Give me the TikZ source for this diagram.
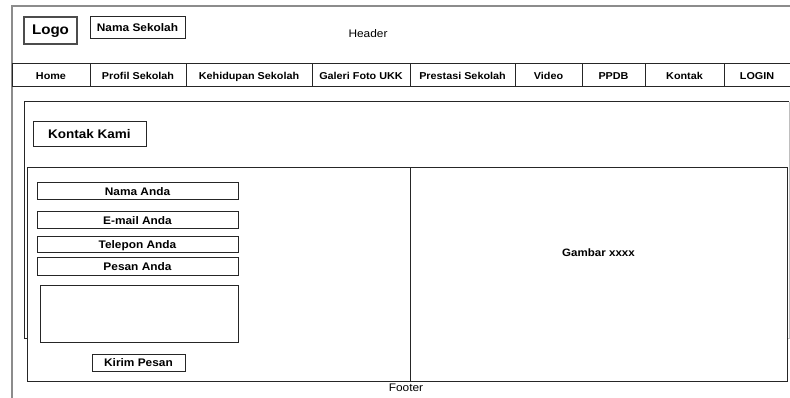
\documentclass[tikz,border=0pt]{standalone}
\usepackage{fontspec}
\setmainfont{Liberation Sans}[FakeStretch=1.08]
\usetikzlibrary{positioning}

\tikzset{
    wbox/.style={draw=black!85, line width=1pt, fill=white, inner sep=0pt,
        text height=0.72em, text depth=0pt, font=\fontsize{11}{13}\selectfont\bfseries},
    navcell/.style={wbox, minimum height=23pt, font=\fontsize{10}{12}\selectfont\bfseries},
    plain/.style={inner sep=0pt, text height=0.72em, text depth=0pt,
        font=\fontsize{11}{13}\selectfont}
}

\begin{document}
\begin{tikzpicture}[x=1pt,y=-1pt]
    \useasboundingbox (0,0) rectangle (790,398);

    % Page frame
    \draw[gray!90, line width=1.6pt] (12,398) -- (12,6) -- (790,6);

    % Header
    \node[wbox, line width=1.4pt, draw=black!70, minimum width=53pt, minimum height=27pt,
        font=\fontsize{14}{16}\selectfont\bfseries] (logo) at (50.5,30.5) {Logo};
    \node[wbox, minimum width=95pt, minimum height=22pt] (nama) at (137.5,28) {Nama Sekolah};
    \node[plain] (header) at (368,34) {Header};

    % Menu bar
    \foreach \xa/\xb/\nm/\lbl in {12/90/home/Home, 90/186/profil/Profil Sekolah,
        186/312/kehidupan/Kehidupan Sekolah, 312/410/galeri/Galeri Foto UKK,
        410/515/prestasi/Prestasi Sekolah, 515/582/video/Video, 582/645/ppdb/PPDB,
        645/724/kontak/Kontak, 724/790/login/LOGIN} {
        \node[navcell, minimum width={(\xb-\xa)*1pt}] (\nm) at ({(\xa+\xb)/2},75.5) {\lbl};
    }

    % Content area
    \draw[black!85, line width=1pt] (789,102) -- (24,102) -- (24,338) -- (27,338);
    \draw[gray!50, line width=1pt] (789,102) -- (789,338) -- (786,338);
    \node[wbox, minimum width=113pt, minimum height=25pt,
        font=\fontsize{12.5}{14}\selectfont\bfseries] (judul) at (89.5,134.5) {Kontak Kami};

    % Form panel and picture panel
    \node[wbox, minimum width=383pt, minimum height=213pt] (form) at (218.5,274.5) {};
    \node[wbox, minimum width=377pt, minimum height=213pt] (gambar) at (598.5,274.5) {};
    \node[wbox, draw=none, fill=none, font=\fontsize{10.7}{12}\selectfont\bfseries]
        (gbrtext) at (598.5,253) {Gambar xxxx};

    % Form fields
    \node[wbox, minimum width=201pt, minimum height=17pt] (fnama) at (137.5,191.5) {Nama Anda};
    \node[wbox, minimum width=201pt, minimum height=17pt] (femail) at (137.5,220.5) {E-mail Anda};
    \node[wbox, minimum width=201pt, minimum height=16pt] (ftelp) at (137.5,245) {Telepon Anda};
    \node[wbox, minimum width=201pt, minimum height=17pt] (fpesan) at (137.5,266.5) {Pesan Anda};
    \node[wbox, minimum width=198pt, minimum height=57pt] (isi) at (139,313.5) {};
    \node[wbox, minimum width=93pt, minimum height=17pt] (kirim) at (138.5,362.5) {Kirim Pesan};

    % Footer
    \node[plain] (footer) at (406,388) {Footer};
\end{tikzpicture}
\end{document}
